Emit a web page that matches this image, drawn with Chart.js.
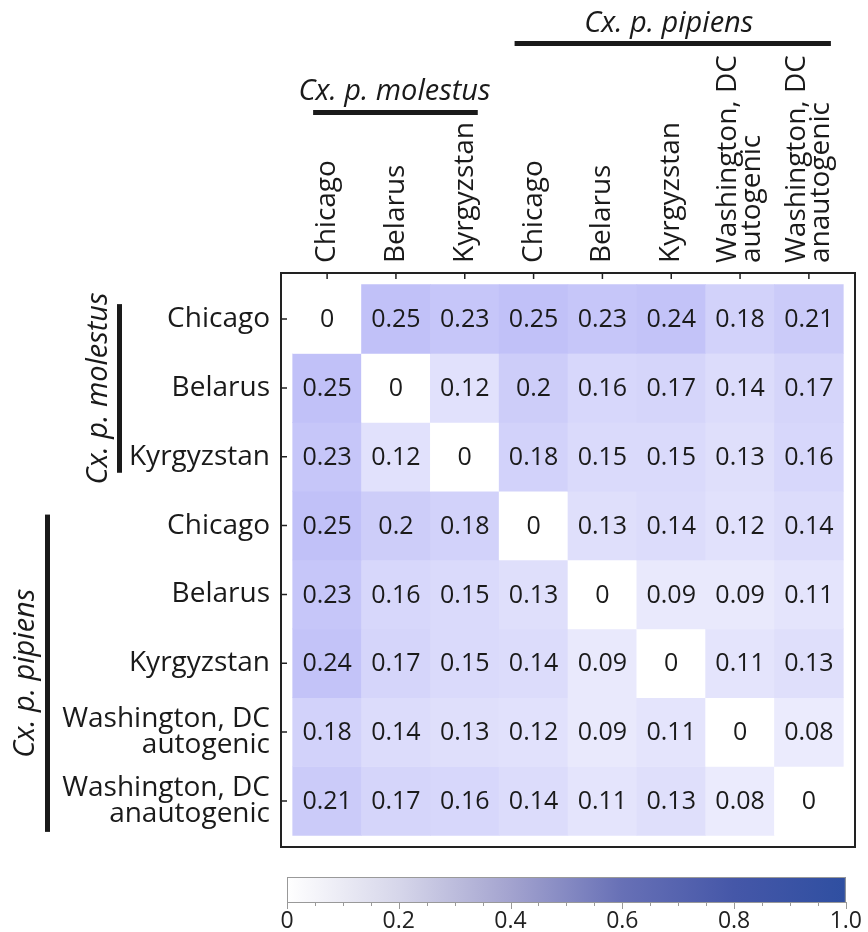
<!DOCTYPE html>
<html>
<head>
<meta charset="utf-8">
<script src="https://cdn.jsdelivr.net/npm/chart.js@4.4.1/dist/chart.umd.min.js"></script>
<style>
  body { margin: 0; background: #fff; }
  #wrap { position: relative; width: 868px; height: 932px; }
  #heat { position: absolute; left: 0; top: 0; }
  #bar { position: absolute; left: 0; top: 860px; }
</style>
</head>
<body>
<div id="wrap">
  <canvas id="heat" width="868" height="860"></canvas>
  <canvas id="bar" width="868" height="72"></canvas>
</div>
<script>
// populations (same order on both axes)
const populations = ['Chicago', 'Belarus', 'Kyrgyzstan', 'Chicago', 'Belarus', 'Kyrgyzstan',
    ['Washington, DC', 'autogenic'], ['Washington, DC', 'anautogenic']];

// pairwise values, one row per population
const molChicago    = [0, 0.25, 0.23, 0.25, 0.23, 0.24, 0.18, 0.21];
const molBelarus    = [0.25, 0, 0.12, 0.2, 0.16, 0.17, 0.14, 0.17];
const molKyrgyzstan = [0.23, 0.12, 0, 0.18, 0.15, 0.15, 0.13, 0.16];
const pipChicago    = [0.25, 0.2, 0.18, 0, 0.13, 0.14, 0.12, 0.14];
const pipBelarus    = [0.23, 0.16, 0.15, 0.13, 0, 0.09, 0.09, 0.11];
const pipKyrgyzstan = [0.24, 0.17, 0.15, 0.14, 0.09, 0, 0.11, 0.13];
const pipWashAuto   = [0.18, 0.14, 0.13, 0.12, 0.09, 0.11, 0, 0.08];
const pipWashAnauto = [0.21, 0.17, 0.16, 0.14, 0.11, 0.13, 0.08, 0];

const rows = [molChicago, molBelarus, molKyrgyzstan, pipChicago, pipBelarus, pipKyrgyzstan, pipWashAuto, pipWashAnauto];

// colour bar
const barTicks = [0, 0.2, 0.4, 0.6, 0.8, 1.0];
const barTickLabels = ['0', '0.2', '0.4', '0.6', '0.8', '1.0'];

const FONT = "'Open Sans', 'DejaVu Sans', sans-serif";
const INK = '#1a1a1a';

function cellColor(v)
{
    const rg = Math.round(255 - 250 * v);
    const b = Math.round(255 - 28 * v);
    return `rgb(${rg},${rg},${b})`;
}

const datasets = rows.map((row, r) => ({
    data: row.map((v, c) => ({x: c, y: [r - 0.5, r + 0.5], v: v})),
    backgroundColor: row.map(v => cellColor(v)),
    borderWidth: 0,
    barPercentage: 1,
    categoryPercentage: 1,
    grouped: false
}));

const idx = [0, 1, 2, 3, 4, 5, 6, 7];

const heatPlugin = {
    id: 'heatDecor',
    afterDatasetsDraw(chart)
    {
        const ctx = chart.ctx;
        ctx.save();
        ctx.fillStyle = INK;
        ctx.font = `25px ${FONT}`;
        ctx.textAlign = 'center';
        ctx.textBaseline = 'middle';
        chart.data.datasets.forEach((ds, i) =>
        {
            chart.getDatasetMeta(i).data.forEach((el, j) =>
            {
                const p = el.getCenterPoint();
                ctx.fillText(String(ds.data[j].v), p.x, p.y + 1);
            });
        });
        ctx.restore();
    },
    afterDraw(chart)
    {
        const ctx = chart.ctx;
        const a = chart.chartArea;
        const xs = chart.scales.x, ys = chart.scales.y;
        ctx.save();
        // frame
        ctx.strokeStyle = '#222';
        ctx.lineWidth = 2;
        ctx.strokeRect(a.left, a.top, a.right - a.left, a.bottom - a.top);
        // inward ticks
        ctx.lineWidth = 1.5;
        ctx.beginPath();
        idx.forEach(i =>
        {
            const px = xs.getPixelForValue(i);
            ctx.moveTo(px, a.top);
            ctx.lineTo(px, a.top + 6);
            const py = ys.getPixelForValue(i);
            ctx.moveTo(a.left, py);
            ctx.lineTo(a.left + 6, py);
        });
        ctx.stroke();

        // group brackets
        ctx.fillStyle = INK;
        ctx.font = `italic 29px ${FONT}`;
        ctx.textAlign = 'center';
        ctx.textBaseline = 'alphabetic';
        // top: molestus
        let x0 = xs.getPixelForValue(0) - 14, x1 = xs.getPixelForValue(2) + 13;
        ctx.fillRect(x0, 110, x1 - x0, 5);
        ctx.fillText('Cx. p. molestus', (x0 + x1) / 2 - 1, 100);
        // top: pipiens
        x0 = xs.getPixelForValue(3) - 19; x1 = xs.getPixelForValue(7) + 22;
        ctx.fillRect(x0, 41, x1 - x0, 5);
        ctx.fillText('Cx. p. pipiens', (x0 + x1) / 2 - 4, 32);
        // left: molestus
        let y0 = ys.getPixelForValue(0) - 15, y1 = ys.getPixelForValue(2) + 16;
        ctx.fillRect(117, y0, 5, y1 - y0);
        ctx.save();
        ctx.translate(107, (y0 + y1) / 2);
        ctx.rotate(-Math.PI / 2);
        ctx.fillText('Cx. p. molestus', 0, 0);
        ctx.restore();
        // left: pipiens
        y0 = ys.getPixelForValue(3) - 11; y1 = ys.getPixelForValue(7) + 31;
        ctx.fillRect(45, y0, 5, y1 - y0);
        ctx.save();
        ctx.translate(34, (y0 + y1) / 2);
        ctx.rotate(-Math.PI / 2);
        ctx.fillText('Cx. p. pipiens', 0, 0);
        ctx.restore();
        ctx.restore();
    }
};

// rotated top labels: chart.js anchors the last line one line-height left of
// the tick, so single lines get a taller line box to centre on the tick
const LABEL_SIZE = 28;
const SINGLE_LH = 36;
const DOUBLE_LH = 24;

new Chart(document.getElementById('heat'), {
    type: 'bar',
    data: {datasets: datasets},
    options: {
        responsive: false,
        animation: false,
        events: [],
        layout: {padding: {left: 0, top: 0, right: 13, bottom: 13}},
        plugins: {legend: {display: false}, tooltip: {enabled: false}},
        scales: {
            x: {
                type: 'linear',
                position: 'top',
                offset: false,
                min: -0.67,
                max: 7.67,
                afterBuildTicks: scale => { scale.ticks = idx.map(v => ({value: v})); },
                afterFit: scale =>
                {
                    scale.height = 273;
                    scale.paddingLeft = 0;
                    scale.paddingRight = 0;
                },
                grid: {display: false, drawTicks: false},
                border: {display: false},
                ticks: {
                    autoSkip: false,
                    minRotation: 90,
                    maxRotation: 90,
                    padding: 10,
                    labelOffset: SINGLE_LH,
                    color: INK,
                    font: ctx => ({
                        family: FONT,
                        size: LABEL_SIZE,
                        lineHeight: (Array.isArray(populations[ctx.index]) ? DOUBLE_LH : SINGLE_LH) / LABEL_SIZE
                    }),
                    callback: v => populations[v]
                }
            },
            y: {
                type: 'linear',
                reverse: true,
                offset: false,
                min: -0.67,
                max: 7.67,
                afterBuildTicks: scale => { scale.ticks = idx.map(v => ({value: v})); },
                afterFit: scale =>
                {
                    scale.width = 281;
                    scale.paddingTop = 0;
                    scale.paddingBottom = 0;
                },
                grid: {display: false, drawTicks: false},
                border: {display: false},
                ticks: {
                    autoSkip: false,
                    padding: 11,
                    color: INK,
                    font: {family: FONT, size: LABEL_SIZE, lineHeight: 0.95},
                    callback: v => populations[v]
                }
            }
        }
    },
    plugins: [heatPlugin]
});

// colour bar chart
const barPlugin = {
    id: 'barDecor',
    afterDraw(chart)
    {
        const ctx = chart.ctx;
        const a = chart.chartArea;
        const xs = chart.scales.x;
        ctx.save();
        ctx.strokeStyle = '#999';
        ctx.lineWidth = 1;
        ctx.strokeRect(a.left + 0.5, a.top + 0.5, a.right - a.left - 1, a.bottom - a.top);
        ctx.beginPath();
        for (let i = 0; i <= 20; i++)
        {
            const px = Math.round(xs.getPixelForValue(i / 20)) + 0.5;
            const len = i % 4 === 0 ? 7 : 4;
            ctx.moveTo(px, a.bottom);
            ctx.lineTo(px, a.bottom + len);
        }
        ctx.moveTo(a.left, a.bottom + 0.5);
        ctx.lineTo(a.right, a.bottom + 0.5);
        ctx.stroke();
        ctx.restore();
    }
};

new Chart(document.getElementById('bar'), {
    type: 'bar',
    data: {
        labels: [''],
        datasets: [{
            data: [[0, 1]],
            borderWidth: 0,
            barPercentage: 1,
            categoryPercentage: 1,
            backgroundColor: context =>
            {
                const a = context.chart.chartArea;
                if (!a) return '#ffffff';
                const g = context.chart.ctx.createLinearGradient(a.left, 0, a.right, 0);
                g.addColorStop(0, '#ffffff');
                g.addColorStop(0.2, '#d6d6ea');
                g.addColorStop(0.4, '#a3a3cf');
                g.addColorStop(0.6, '#6770b6');
                g.addColorStop(0.8, '#4557a8');
                g.addColorStop(1, '#2f4fa1');
                return g;
            }
        }]
    },
    options: {
        indexAxis: 'y',
        responsive: false,
        animation: false,
        events: [],
        layout: {padding: {left: 287, right: 14, top: 17, bottom: 0}},
        plugins: {legend: {display: false}, tooltip: {enabled: false}},
        scales: {
            x: {
                type: 'linear',
                min: 0,
                max: 1,
                afterBuildTicks: scale => { scale.ticks = barTicks.map(v => ({value: v})); },
                afterFit: scale => { scale.height = 30; },
                grid: {display: false, drawTicks: false},
                border: {display: false},
                ticks: {
                    padding: 6,
                    color: '#222',
                    font: {family: FONT, size: 23},
                    callback: (v, i) => barTickLabels[i]
                }
            },
            y: {display: false}
        }
    },
    plugins: [barPlugin]
});
</script>
</body>
</html>
